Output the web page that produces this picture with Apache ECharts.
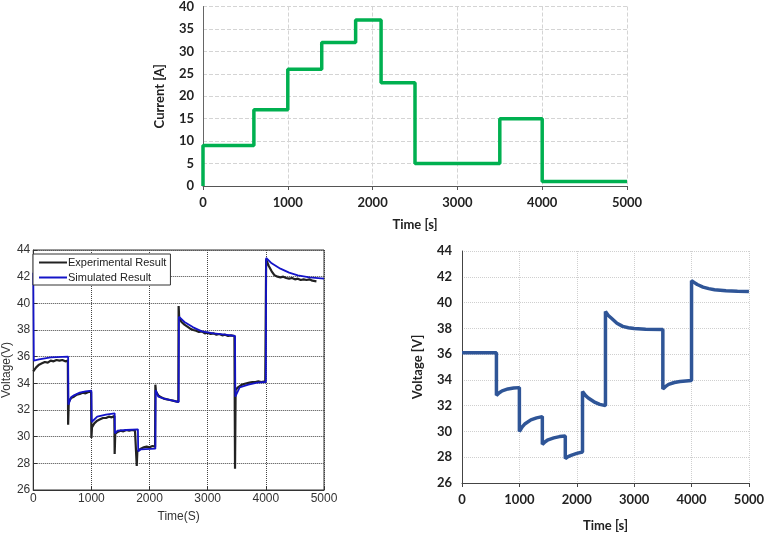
<!DOCTYPE html>
<html>
<head>
<meta charset="utf-8">
<script src="https://cdn.jsdelivr.net/npm/echarts@6/dist/echarts.min.js"></script>
<style>
  html, body { margin: 0; padding: 0; background: #fff; }
  #chart { width: 767px; height: 533px; }
</style>
</head>
<body>
<div id="chart"></div>
<script>
// top: current profile (step)
const currentTime = [0, 0, 600, 1000, 1400, 1800, 2100, 2500, 3500, 4000, 5000];
const currentValue = [0, 9, 17, 26, 32, 37, 23, 5, 15, 1, 1];

// bottom-left: measured vs simulated voltage
const expTime = [0, 50, 100, 150, 200, 250, 300, 350, 400, 450, 500, 550, 595, 600, 610,
  650, 700, 750, 800, 850, 900, 950, 995, 1000, 1010,
  1050, 1100, 1150, 1200, 1250, 1300, 1350, 1395, 1400, 1410,
  1450, 1500, 1550, 1600, 1650, 1700, 1750, 1775, 1780, 1790,
  1850, 1900, 1950, 2000, 2050, 2095, 2100, 2110,
  2150, 2200, 2250, 2300, 2350, 2400, 2450, 2495, 2500, 2510,
  2550, 2600, 2650, 2700, 2750, 2800, 2850, 2900, 2950, 3000, 3050, 3100, 3150, 3200, 3250, 3300, 3350, 3400, 3460, 3470, 3480,
  3520, 3570, 3620, 3670, 3720, 3770, 3820, 3870, 3920, 3990, 4005,
  4050, 4100, 4150, 4200, 4250, 4300, 4350, 4400, 4450, 4500, 4550, 4600, 4650, 4700, 4750, 4800, 4870];
const expVoltage = [34.9, 35.2, 35.4, 35.5, 35.6, 35.55, 35.7, 35.65, 35.75, 35.7, 35.75, 35.65, 35.7, 30.9, 32.6,
  32.9, 33.0, 33.15, 33.2, 33.3, 33.25, 33.35, 33.35, 29.9, 30.7,
  31.0, 31.2, 31.3, 31.4, 31.4, 31.5, 31.45, 31.55, 28.7, 30.2,
  30.35, 30.45, 30.4, 30.5, 30.45, 30.5, 30.45, 30.5, 27.8, 28.9,
  29.1, 29.2, 29.25, 29.2, 29.3, 29.25, 33.9, 33.4,
  33.1, 32.95, 32.85, 32.8, 32.75, 32.7, 32.65, 32.6, 39.8, 38.9,
  38.6, 38.4, 38.25, 38.1, 38.0, 37.95, 37.85, 37.9, 37.75, 37.8, 37.7, 37.75, 37.65, 37.7, 37.6, 37.65, 37.55, 37.6, 37.55, 27.6, 33.5,
  33.7, 33.85, 33.95, 34.0, 34.05, 34.1, 34.1, 34.15, 34.1, 34.15, 43.3,
  42.8, 42.4, 42.1, 42.0, 41.95, 42.0, 41.9, 41.85, 41.9, 41.8, 41.85, 41.75, 41.8, 41.75, 41.8, 41.7, 41.65];
const simTime = [0, 10, 100, 300, 600, 605, 650, 700, 800, 900, 1000, 1005, 1100, 1250, 1400, 1405, 1450, 1600, 1800, 1805, 1850, 2100,
  2105, 2150, 2250, 2400, 2500, 2505, 2600, 2750, 2900, 3100, 3300, 3470, 3475, 3550, 3700, 3850, 4000,
  4005, 4100, 4250, 4400, 4550, 4750, 5000];
const simVoltage = [42.3, 35.7, 35.8, 35.95, 36.0, 32.4, 32.95, 33.1, 33.3, 33.4, 33.45, 31.1, 31.5, 31.65, 31.75, 30.25, 30.45, 30.5, 30.55, 28.9, 29.05, 29.1,
  33.5, 33.0, 32.85, 32.7, 32.6, 39.0, 38.6, 38.2, 37.9, 37.75, 37.65, 37.55, 33.0, 33.7, 33.9, 34.05, 34.1,
  43.4, 43.0, 42.6, 42.3, 42.1, 41.95, 41.85];

// bottom-right: model voltage
const modelTime = [0, 600, 600, 650, 700, 800, 900, 1000, 1000, 1050, 1100, 1200, 1300, 1400, 1400, 1450, 1500, 1600, 1700, 1800,
  1800, 1850, 1900, 2000, 2100, 2100, 2150, 2200, 2300, 2400, 2500,
  2500, 2550, 2600, 2700, 2800, 2900, 3000, 3200, 3500, 3500, 3550, 3600, 3700, 3800, 3900, 4000,
  4000, 4050, 4100, 4200, 4300, 4400, 4600, 4800, 5000];
const modelVoltage = [36.1, 36.1, 32.8, 33.0, 33.15, 33.3, 33.37, 33.4, 30.0, 30.35, 30.6, 30.9, 31.05, 31.15, 29.0, 29.2, 29.35, 29.5, 29.6, 29.65,
  27.9, 28.05, 28.15, 28.3, 28.4, 33.1, 32.8, 32.6, 32.3, 32.1, 32.0,
  39.3, 39.0, 38.8, 38.4, 38.15, 38.05, 37.98, 37.92, 37.9, 33.3, 33.5, 33.65, 33.8, 33.88, 33.92, 33.95,
  41.7, 41.55, 41.4, 41.2, 41.08, 41.0, 40.92, 40.88, 40.85];

const zip = (a, b) => a.map((t, i) => [t, b[i]]);
const plain = v => String(v);

const boldFont = { fontFamily: 'Lato', fontWeight: 'bold', fontSize: 13, color: '#222' };
const matlabFont = { fontFamily: 'Liberation Sans', fontSize: 12, color: '#333' };

let myChart = echarts.init(document.getElementById('chart'));
myChart.setOption({
  animation: false,
  backgroundColor: '#fff',
  grid: [
    { left: 203, top: 5, width: 424, height: 181 },
    { left: 30, top: 250, width: 294, height: 240, show: true, borderColor: '#333', borderWidth: 1 },
    { left: 462, top: 251, width: 292, height: 239 }
  ],
  legend: {
    orient: 'vertical',
    left: 33,
    top: 254,
    backgroundColor: '#fff',
    borderColor: '#333',
    borderWidth: 1,
    borderRadius: 0,
    padding: [3, 4, 2, 6],
    itemGap: 4,
    itemWidth: 28,
    itemHeight: 2,
    icon: 'rect',
    textStyle: { fontFamily: 'Liberation Sans', fontSize: 11, color: '#222', padding: [0, 0, 0, -4] },
    data: ['Experimental Result', 'Simulated Result']
  },
  xAxis: [
    {
      gridIndex: 0, type: 'value', min: 0, max: 5000, interval: 1000,
      name: 'Time [s]', nameLocation: 'middle', nameGap: 32, nameTextStyle: boldFont,
      axisLine: { lineStyle: { color: '#555', width: 1 } },
      axisTick: { show: true, length: 4, lineStyle: { color: '#555' } },
      axisLabel: Object.assign({ margin: 10, formatter: plain }, boldFont),
      splitLine: { show: true, lineStyle: { type: 'dashed', color: '#d4d4d4' } }
    },
    {
      gridIndex: 1, type: 'value', min: 0, max: 5000, interval: 1000,
      name: 'Time(S)', nameLocation: 'middle', nameGap: 21, nameTextStyle: matlabFont,
      axisLine: { lineStyle: { color: '#333' } },
      axisTick: { show: true, inside: true, length: 4, lineStyle: { color: '#333' } },
      axisLabel: Object.assign({ margin: 3, formatter: plain }, matlabFont),
      splitLine: { show: true, lineStyle: { type: 'dotted', color: '#444' } }
    },
    {
      gridIndex: 2, type: 'value', min: 0, max: 5000, interval: 1000,
      name: 'Time [s]', nameLocation: 'middle', nameGap: 36, nameTextStyle: boldFont,
      axisLine: { lineStyle: { color: '#444' } },
      axisTick: { show: true, length: 4, lineStyle: { color: '#444' } },
      axisLabel: Object.assign({ margin: 10, formatter: plain }, boldFont),
      splitLine: { show: true, lineStyle: { type: 'dotted', color: '#cfcfcf' } }
    }
  ],
  yAxis: [
    {
      gridIndex: 0, type: 'value', min: 0, max: 40, interval: 5,
      name: 'Current [A]', nameLocation: 'middle', nameGap: 37, nameTextStyle: boldFont,
      axisLine: { show: true, lineStyle: { color: '#666' } },
      axisTick: { show: false },
      axisLabel: Object.assign({ margin: 9 }, boldFont),
      splitLine: { show: true, lineStyle: { type: 'dashed', color: '#d4d4d4' } }
    },
    {
      gridIndex: 1, type: 'value', min: 26, max: 44, interval: 2,
      name: 'Voltage(V)', nameLocation: 'middle', nameGap: 20, nameTextStyle: matlabFont,
      axisLine: { show: true, lineStyle: { color: '#333' } },
      axisTick: { show: true, inside: true, length: 4, lineStyle: { color: '#333' } },
      axisLabel: Object.assign({ margin: 3 }, matlabFont),
      splitLine: { show: true, lineStyle: { type: 'dotted', color: '#444' } }
    },
    {
      gridIndex: 2, type: 'value', min: 26, max: 44, interval: 2,
      name: 'Voltage [V]', nameLocation: 'middle', nameGap: 38, nameTextStyle: boldFont,
      axisLine: { show: true, lineStyle: { color: '#444' } },
      axisTick: { show: false },
      axisLabel: Object.assign({ margin: 10 }, boldFont),
      splitLine: { show: true, lineStyle: { type: 'dotted', color: '#cfcfcf' } }
    }
  ],
  series: [
    {
      name: 'Current',
      type: 'line',
      xAxisIndex: 0, yAxisIndex: 0,
      step: 'end',
      symbol: 'none',
      lineStyle: { color: '#00b050', width: 3.5 },
      data: zip(currentTime, currentValue)
    },
    {
      name: 'Experimental Result',
      type: 'line',
      xAxisIndex: 1, yAxisIndex: 1,
      symbol: 'none',
      color: '#222',
      lineStyle: { color: '#222', width: 2.2 },
      data: zip(expTime, expVoltage)
    },
    {
      name: 'Simulated Result',
      type: 'line',
      xAxisIndex: 1, yAxisIndex: 1,
      symbol: 'none',
      color: '#1414c8',
      lineStyle: { color: '#1414c8', width: 1.8 },
      data: zip(simTime, simVoltage)
    },
    {
      name: 'Model',
      type: 'line',
      xAxisIndex: 2, yAxisIndex: 2,
      symbol: 'none',
      lineStyle: { color: '#2f5597', width: 3.5 },
      data: zip(modelTime, modelVoltage)
    }
  ]
});
</script>
</body>
</html>
